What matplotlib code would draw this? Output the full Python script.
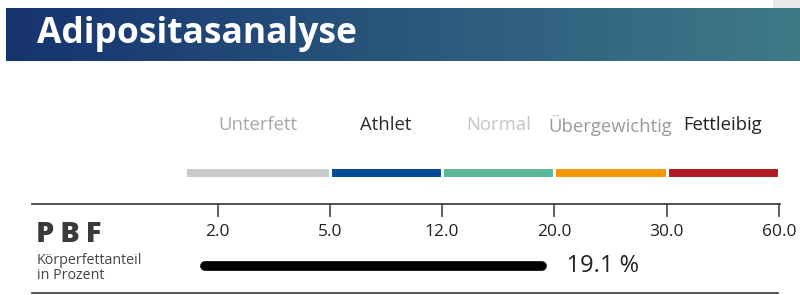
import numpy as np
import matplotlib.pyplot as plt
from matplotlib.patches import Rectangle
from matplotlib.lines import Line2D

plt.rcParams['font.family'] = ['Open Sans', 'DejaVu Sans']

# data
title = 'Adipositasanalyse'
categories = ['Unterfett', 'Athlet', 'Normal', 'Übergewichtig', 'Fettleibig']
cat_bounds = [0, 5, 12, 20, 30, 60]
cat_colors = ['#c8c9cb', '#004a97', '#5db89b', '#f39800', '#b01a22']
label_colors = ['#a8a8a8', '#2a2a2a', '#c4c4c4', '#9a9a9a', '#222222']
tick_values = [2.0, 5.0, 12.0, 20.0, 30.0, 60.0]
pbf_value = 19.1
bar_start = 1.2

# piecewise scale: each range between ticks gets the same width
scale_vals = [0, 2, 5, 12, 20, 30, 60]
scale_pos = [-0.29, 0, 1, 2, 3, 4, 5]


def fwd(x):
    return np.interp(x, scale_vals, scale_pos)


def inv(p):
    return np.interp(p, scale_pos, scale_vals)


W, H = 800, 295
fig = plt.figure(figsize=(W / 100, H / 100), dpi=100)


def fx(px):
    return px / W


def fy(py):
    return 1 - py / H


# header banner with gradient
hax = fig.add_axes([fx(6), fy(61), fx(800 - 6), (61 - 8) / H])
grad = np.linspace(0, 1, 256).reshape(1, -1)
c0 = np.array([22, 51, 112]) / 255
c1 = np.array([62, 122, 136]) / 255
img = c0[None, None, :] * (1 - grad[..., None]) + c1[None, None, :] * grad[..., None]
hax.imshow(img, aspect='auto', extent=[0, 1, 0, 1])
hax.set_axis_off()
fig.add_artist(Rectangle((fx(773), fy(8)), fx(27), 8 / H, transform=fig.transFigure,
                         color='#e8e8e8', lw=0))
fig.text(fx(37), fy(34), title, color='white', fontsize=25.5, fontweight='bold',
         va='center', ha='left')

# main scale axes
ax = fig.add_axes([fx(185), 0, fx(779 - 185), 1])
ax.set_xscale('function', functions=(fwd, inv))
ax.set_xlim(0, 60)
ax.set_ylim(H, 0)
ax.set_axis_off()

# colour strip + category labels
for i, name in enumerate(categories):
    lo, hi = cat_bounds[i], cat_bounds[i + 1]
    ax.barh(172.5, hi - lo, left=lo, height=11, color=cat_colors[i],
            edgecolor='white', linewidth=2.2)
    mid = inv((fwd(lo) + fwd(hi)) / 2)
    ax.text(mid, 125, name, color=label_colors[i], fontsize=13.3,
            ha='center', va='center')

# axis lines
fig.add_artist(Line2D([fx(32), fx(780)], [fy(204), fy(204)], color='#444444', lw=1.3))
fig.add_artist(Line2D([fx(32), fx(778)], [fy(293), fy(293)], color='#444444', lw=1.3))

for v in tick_values:
    ax.plot([v, v], [204, 216], color='#555555', lw=1.3, clip_on=False)
    ax.text(v, 232, f'{v:.1f}', fontsize=12.5, color='#222222', ha='center', va='center')

# PBF bar
ax.plot([bar_start, pbf_value], [266, 266], color='black', lw=7,
        solid_capstyle='round', clip_on=False)
ax.text(pbf_value, 266, f'    {pbf_value} %', fontsize=17, color='#222222',
        ha='left', va='center')

fig.text(fx(36), fy(235), 'P\u2009B\u2009F', fontsize=21, fontweight='heavy', color='#3a3a3a',
         ha='left', va='center')
fig.text(fx(37), fy(268), 'Körperfettanteil\nin Prozent', fontsize=10.3, color='#444444',
         ha='left', va='center', linespacing=0.95)

fig.savefig('out.png', dpi=100)
